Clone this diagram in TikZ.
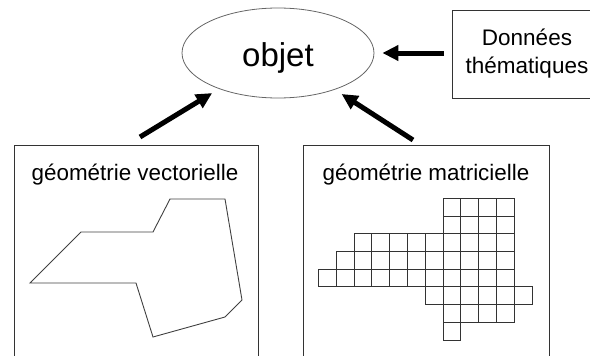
\documentclass[tikz,border=0pt]{standalone}
\usepackage{fontspec}
\setmainfont{Liberation Sans}
\usetikzlibrary{shapes.geometric,arrows.meta}
\begin{document}
\begin{tikzpicture}[x=1pt,y=-1pt,
  frame/.style={draw=black!80,line width=0.9pt,rectangle,inner sep=0pt},
  bigarrow/.style={line width=5pt,-{Triangle[length=16pt,width=15pt]},shorten >=8pt},
  cell/.style={draw=black!80,line width=0.8pt},
  shape line/.style={draw=black!75,line width=0.9pt,line join=miter}]
\useasboundingbox (0,0) rectangle (590,356);

% central object
\node (obj) [ellipse,draw=black!60,line width=0.8pt,minimum width=192pt,minimum height=90pt,
  inner sep=0pt,font=\fontsize{33}{33}\selectfont,text height=27pt,text depth=0pt] at (278,53) {objet};

% thematic data box (runs past the right edge)
\node (data) [frame,minimum width=150pt,minimum height=88pt,align=center,
  font=\fontsize{22.5}{28}\selectfont] at (527,54) {Données\\thématiques};

% the two geometry frames (run past the bottom edge)
\node (vec) [frame,anchor=north west,minimum width=244pt,minimum height=230pt] at (14,145) {};
\node (mat) [frame,anchor=north west,minimum width=246pt,minimum height=230pt] at (303,145) {};
\node (vectitle) [anchor=base,font=\fontsize{22.4}{26}\selectfont] at (135,180) {géométrie vectorielle};
\node (mattitle) [anchor=base,font=\fontsize{22.4}{26}\selectfont] at (426,180) {géométrie matricielle};

% arrows into the object
\coordinate (dt) at (444,53);
\coordinate (vt) at (140,137);
\coordinate (mt) at (413,140);
\draw[bigarrow] (dt) -- (obj);
\draw[bigarrow] (vt) -- (obj);
\draw[bigarrow] (mt) -- (obj);

% vector outline
\draw[shape line] (170,199) -- (225,199) -- (242,300) -- (225,317) -- (153,337)
  -- (136,283) -- (30,283) -- (81,232) -- (153,232) -- cycle;

% raster cells: row / first column / last column
\foreach \r/\a/\b in {0/7/10,1/7/10,2/2/10,3/1/10,4/0/10,5/6/11,6/7/10,7/7/7}
  \foreach \c in {\a,...,\b}
    \draw[cell] ({318.3+\c*17.8},{198.3+\r*17.7}) rectangle ++(17.8,17.7);
\end{tikzpicture}
\end{document}
